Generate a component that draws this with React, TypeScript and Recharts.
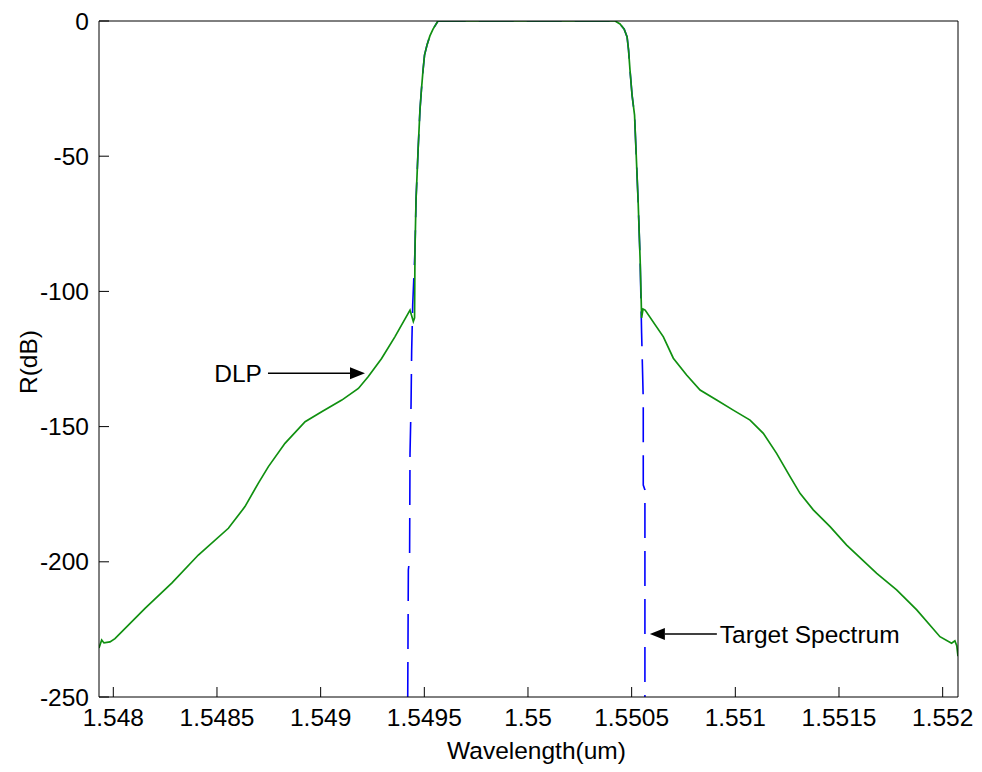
import { LineChart, Line, XAxis, YAxis, ReferenceLine } from 'recharts';

// axis ticks
const xTicks = [1.548, 1.5485, 1.549, 1.5495, 1.55, 1.5505, 1.551, 1.5515, 1.552];
const xTickLabels = ['1.548', '1.5485', '1.549', '1.5495', '1.55', '1.5505', '1.551', '1.5515', '1.552'];
const yTicks = [-250, -200, -150, -100, -50, 0];
const xDomain = [1.547931, 1.552074];
const yDomain = [-250, 0];

// passband and steep edges (shared by both curves)
const bandWavelength = [
  1.549455, 1.54946, 1.54947, 1.549479, 1.549486, 1.549494, 1.549501, 1.549513, 1.549527, 1.549542, 1.549566,
  1.55042, 1.550444, 1.550464, 1.550478, 1.550485, 1.550492, 1.550502, 1.550514, 1.550521, 1.550531, 1.550541,
];
const bandReflect = [
  -84.7, -66.2, -47.7, -32.9, -25.5, -18.1, -12.6, -8.9, -5.5, -3.0, 0,
  0, -1.1, -3.0, -5.9, -10.7, -18.1, -27.4, -34.8, -47.7, -66.2, -88.4,
];

// DLP sidelobes
const dlpLeftWavelength = [
  1.547931, 1.547944, 1.547955, 1.547984, 1.548008, 1.548153, 1.548283, 1.54841, 1.548555, 1.548635, 1.548699,
  1.548748, 1.548828, 1.548925, 1.549005, 1.549102, 1.549182, 1.54923, 1.549294, 1.549358, 1.549431, 1.549447,
  1.549453,
];
const dlpLeftReflect = [
  -231.9, -228.9, -230.0, -229.6, -228.4, -217.2, -207.8, -197.5, -187.6, -179.6, -171.0,
  -164.8, -156.2, -148.2, -144.5, -140.2, -135.9, -131.5, -124.8, -116.8, -106.9, -111.1,
  -109.8,
];
const dlpRightWavelength = [
  1.550546, 1.550548, 1.550555,
  1.550565, 1.550653, 1.550701, 1.550765, 1.55083, 1.55091, 1.55099, 1.551071, 1.551135, 1.551199, 1.551264,
  1.551312, 1.551376, 1.551457, 1.551537, 1.551682, 1.551778, 1.551875, 1.551987, 1.552043, 1.552059, 1.552068,
  1.552074,
];
const dlpRightReflect = [
  -103.2, -109.8, -106.5,
  -106.9, -116.8, -124.7, -130.9, -136.5, -140.2, -143.9, -147.6, -152.5, -159.9, -168.5,
  -174.7, -180.8, -187.0, -193.8, -204.3, -210.4, -217.8, -227.7, -230.1, -229.2, -231.0,
  -234.9,
];

// target spectrum edges below the passband
const targetLeftWavelength = [1.54942, 1.549423, 1.549429, 1.549431, 1.549436, 1.549439, 1.549444];
const targetLeftReflect = [-250, -203, -199, -160, -142, -122, -105];
const targetRightWavelength = [1.550548, 1.550556, 1.550556, 1.550564, 1.550564];
const targetRightReflect = [-115.4, -140.2, -171.6, -173.4, -250];

// annotation arrows: [start wavelength, tip wavelength, level]
const dlpArrow = [1.548746, 1.549214, -130.3];
const targetArrow = [1.550911, 1.550588, -226.7];

const toPoints = (xs: number[], ys: number[]) => xs.map((x, i) => ({ x, y: ys[i] }));
const bandData = toPoints(bandWavelength, bandReflect);
const dlpData = [
  ...toPoints(dlpLeftWavelength, dlpLeftReflect),
  ...bandData,
  ...toPoints(dlpRightWavelength, dlpRightReflect),
];
const targetData = [
  ...toPoints(targetLeftWavelength, targetLeftReflect),
  ...bandData,
  ...toPoints(targetRightWavelength, targetRightReflect),
];

const font = "'Liberation Sans', Arial, sans-serif";
const fontSize = 24.5;

const arrowShape = (props: any) => {
  const { x1, y1, x2, y2 } = props;
  const dir = Math.sign(x2 - x1);
  const bx = x2 - dir * 15;
  return (
    <g>
      <line x1={x1} y1={y1} x2={bx} y2={y2} stroke="#000" strokeWidth={1.5} />
      <polygon points={`${x2},${y2} ${bx},${y2 - 6} ${bx},${y2 + 6}`} fill="#000" />
    </g>
  );
};

export default function App() {
  return (
    <div style={{ margin: -8, width: 982, height: 772, background: '#fff', fontFamily: font }}>
      <LineChart width={982} height={772} margin={{ top: 0, right: 0, bottom: 0, left: 0 }}>
        <XAxis
          dataKey="x"
          type="number"
          domain={xDomain}
          allowDataOverflow
          ticks={xTicks}
          interval={0}
          tickFormatter={(v, i) => xTickLabels[i]}
          tickSize={-10}
          tickMargin={22}
          height={75}
          stroke="#000"
          tick={{ fill: '#000', fontSize }}
          label={{ value: 'Wavelength(um)', position: 'insideBottom', offset: 13, dx: 8, fill: '#000', fontSize }}
        />
        <XAxis
          xAxisId="top"
          orientation="top"
          dataKey="x"
          type="number"
          domain={xDomain}
          allowDataOverflow
          ticks={xTicks}
          interval={0}
          tick={false}
          tickSize={-10}
          height={21}
          stroke="#000"
        />
        <YAxis
          type="number"
          domain={yDomain}
          allowDataOverflow
          ticks={yTicks}
          interval={0}
          tickSize={-10}
          tickMargin={20}
          width={99}
          stroke="#000"
          tick={{ fill: '#000', fontSize }}
          label={{
            content: () => (
              <text
                x={28}
                y={362}
                transform="rotate(-90 28 362)"
                textAnchor="middle"
                dominantBaseline="central"
                fill="#000"
                fontSize={fontSize}
              >
                R(dB)
              </text>
            ),
          }}
        />
        <YAxis
          yAxisId="right"
          orientation="right"
          type="number"
          domain={yDomain}
          allowDataOverflow
          ticks={yTicks}
          interval={0}
          tick={false}
          tickSize={-10}
          width={24}
          stroke="#000"
        />
        <Line
          data={targetData}
          dataKey="y"
          type="linear"
          stroke="#0000ff"
          strokeWidth={1.6}
          strokeDasharray="35 13"
          dot={false}
          isAnimationActive={false}
        />
        <Line
          data={dlpData}
          dataKey="y"
          type="linear"
          stroke="#109010"
          strokeWidth={1.7}
          dot={false}
          isAnimationActive={false}
        />
        <ReferenceLine
          segment={[
            { x: dlpArrow[0], y: dlpArrow[2] },
            { x: dlpArrow[1], y: dlpArrow[2] },
          ]}
          shape={arrowShape}
          label={{ value: 'DLP', position: 'left', offset: 6, fill: '#000', fontSize }}
        />
        <ReferenceLine
          segment={[
            { x: targetArrow[0], y: targetArrow[2] },
            { x: targetArrow[1], y: targetArrow[2] },
          ]}
          shape={arrowShape}
          label={{ value: 'Target Spectrum', position: 'right', offset: 3, fill: '#000', fontSize }}
        />
      </LineChart>
    </div>
  );
}
